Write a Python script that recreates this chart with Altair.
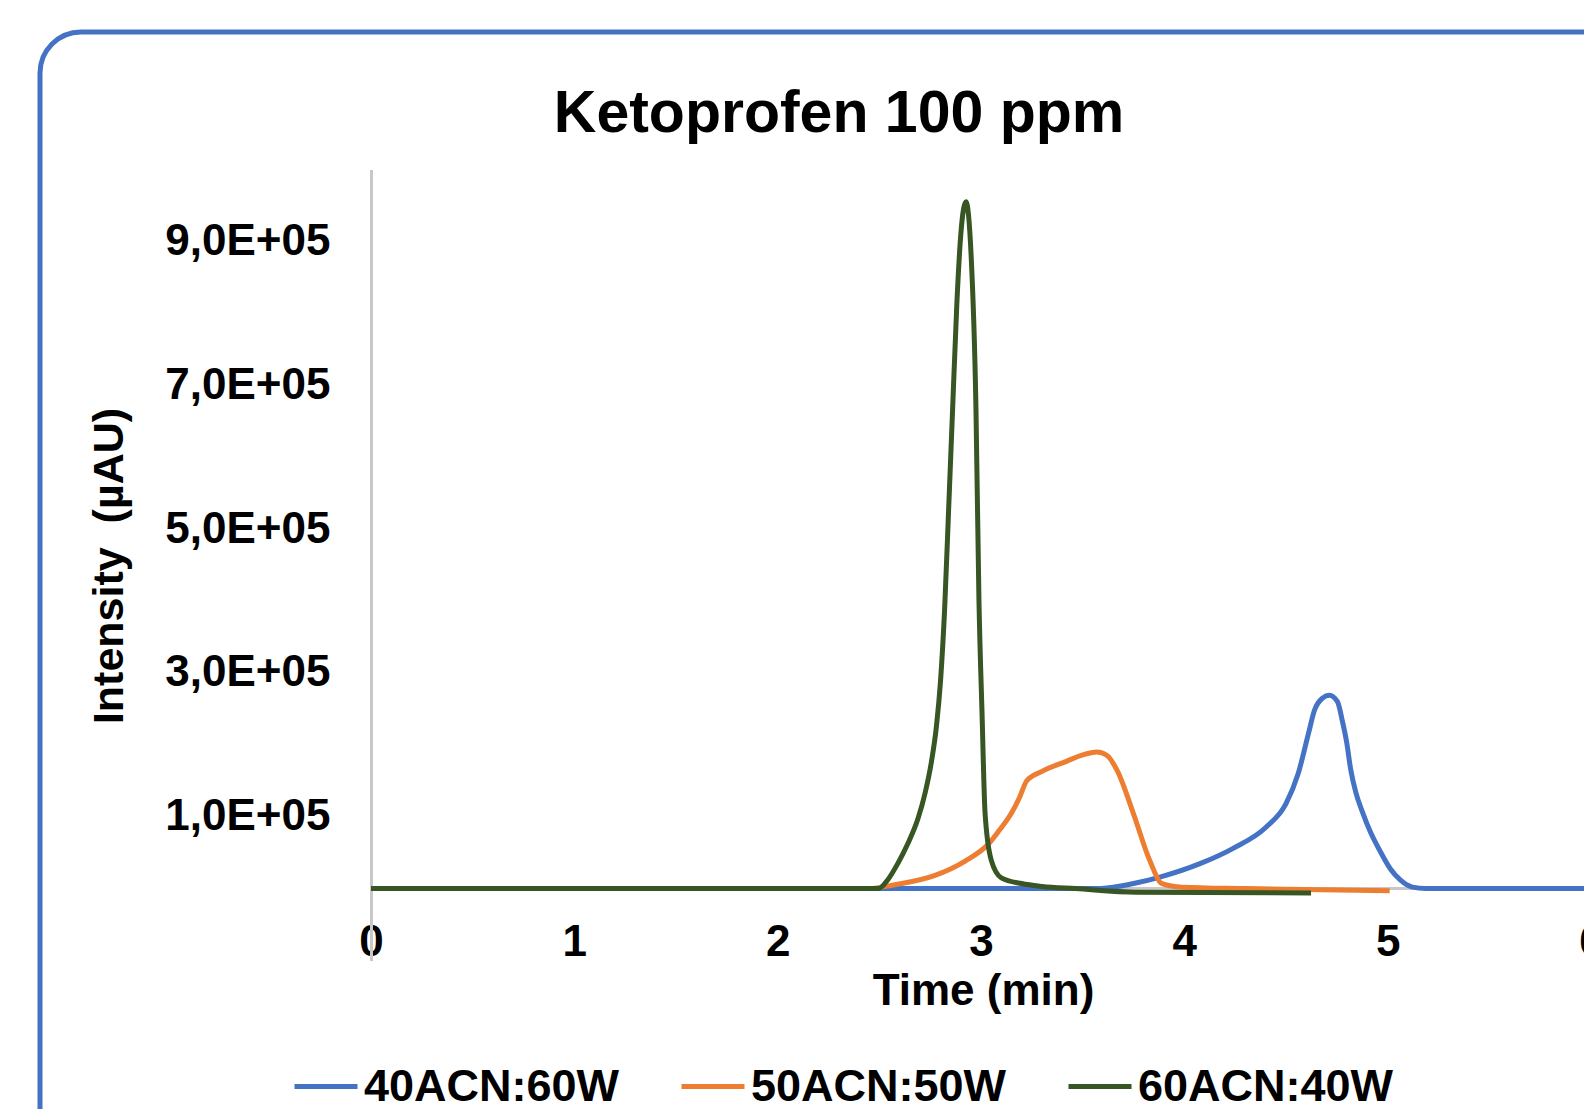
import altair as alt
import pandas as pd

SERIES = ["40ACN:60W", "50ACN:50W", "60ACN:40W"]
COLORS = ["#4472C4", "#ED7D31", "#375623"]

# 40ACN:60W (blue)
t_40 = [0.0, 3.58, 3.65, 3.75, 3.88, 4.08, 4.24, 4.40, 4.50, 4.56, 4.61, 4.64, 4.68,
        4.713, 4.753, 4.778, 4.798, 4.818, 4.843, 4.878, 4.913, 4.963, 5.012, 5.062,
        5.122, 5.187, 6.0]
i_40 = [0, 0, 2000, 7000, 16000, 35000, 56000, 85000, 118000, 160000, 215000, 248000, 265000,
        269000, 260000, 232000, 204000, 166000, 134000, 105000, 80000, 52000, 28000, 12000,
        2000, 0, 0]

# 50ACN:50W (orange)
t_50 = [0.45, 2.45, 2.57, 2.77, 2.92, 3.04, 3.09, 3.15, 3.19, 3.225, 3.30, 3.42, 3.50,
        3.57, 3.62, 3.67, 3.75, 3.83, 3.89, 3.99, 4.30, 5.01]
i_50 = [0, 0, 5000, 18000, 38000, 63000, 81000, 105000, 127000, 150000, 163000, 177000, 186000,
        190000, 185000, 164000, 104000, 39000, 7000, 2000, 0, -3000]

# 60ACN:40W (green)
t_60 = [0.0, 2.496, 2.541, 2.591, 2.641, 2.691, 2.726, 2.756, 2.781, 2.801, 2.821, 2.841,
        2.861, 2.881, 2.901, 2.926, 2.951, 2.975, 2.990, 3.005, 3.020, 3.050, 3.100, 3.200,
        3.300, 3.465, 3.764, 4.623]
i_60 = [0, 0, 12000, 35000, 63000, 98000, 134000, 176000, 226000, 289000, 388000, 529000,
        671000, 812000, 911000, 955000, 883000, 671000, 400000, 245000, 105000, 40000, 15000, 7000,
        3000, 0, -5000, -6000]

X_TICKS = [0, 1, 2, 3, 4, 5, 6]
Y_TICKS = [100000, 300000, 500000, 700000, 900000]

TITLE = "Ketoprofen 100 ppm"
X_TITLE = "Time (min)"
Y_TITLE = "Intensity\u00a0\u00a0(µAU)"

rows = []
for name, ts, vs in zip(SERIES, [t_40, t_50, t_60], [i_40, i_50, i_60]):
    for t, v in zip(ts, vs):
        rows.append({"series": name, "time": t, "intensity": v})
df = pd.DataFrame(rows)

FONT = "Liberation Sans"
W, H = 1220, 791
one = pd.DataFrame({"k": [0]})

x_scale = alt.Scale(domain=[0, 6], nice=False)
y_scale = alt.Scale(domain=[-100000, 1000000], nice=False, zero=False)

frame = alt.Chart(one).mark_rect(
    fillOpacity=0, stroke="#4472C4", strokeWidth=5, cornerRadius=41, clip=False
).encode(
    x=alt.value(-331), x2=alt.value(1400), y=alt.value(-137.5), y2=alt.value(1200)
)

baseline = alt.Chart(one).mark_rule(color="#C8C8C8", strokeWidth=3).encode(
    y=alt.datum(0, scale=y_scale), x=alt.value(0), x2=alt.value(W)
)

lines = alt.Chart(df).mark_line(strokeWidth=5, interpolate="monotone", clip=True).encode(
    x=alt.X("time:Q", scale=x_scale,
            axis=alt.Axis(values=X_TICKS, format="d", title=X_TITLE, grid=False,
                          domain=False, ticks=False, tickSize=0, labelPadding=-40,
                          labelFont=FONT, labelFontSize=44, labelFontWeight="bold",
                          labelColor="#000000", titleFont=FONT, titleFontSize=44,
                          titleFontWeight="bold", titleColor="#000000",
                          titleX=612, titleY=44, titleBaseline="alphabetic",
                          titleAlign="center", labelFlush=False)),
    y=alt.Y("intensity:Q", scale=y_scale,
            axis=alt.Axis(values=Y_TICKS, title=Y_TITLE, grid=False, ticks=False,
                          domain=True, domainColor="#C8C8C8", domainWidth=3,
                          labelExpr="replace(format(datum.value/100000, '.1f'), '.', ',') + 'E+05'",
                          labelPadding=41, labelFont=FONT, labelFontSize=44,
                          labelFontWeight="bold", labelColor="#000000",
                          titleFont=FONT, titleFontSize=43, titleFontWeight="bold",
                          titleColor="#000000", titleAngle=270, titleX=-249, titleY=396,
                          titleBaseline="alphabetic", titleAlign="center")),
    color=alt.Color("series:N", scale=alt.Scale(domain=SERIES, range=COLORS),
                    legend=alt.Legend(orient="none", legendX=-79, legendY=883,
                                      direction="horizontal", title=None,
                                      symbolType="stroke", symbolSize=3969,
                                      symbolStrokeWidth=5, labelFont=FONT,
                                      labelFontSize=45, labelFontWeight="bold",
                                      labelColor="#000000", labelOffset=4,
                                      columnPadding=51, padding=0, labelLimit=500)),
    order=alt.Order("time:Q"),
)

title = alt.Chart(one).mark_text(
    text=TITLE, font=FONT, fontSize=59, fontWeight="bold", color="#000000",
    align="center", baseline="alphabetic"
).encode(x=alt.value(468), y=alt.value(-37.5))

chart = alt.layer(frame, baseline, lines, title).properties(
    width=W, height=H,
    autosize=alt.AutoSizeParams(type="none"),
    padding={"left": 363, "top": 161.5, "right": -7, "bottom": 148.5},
    background="#FFFFFF",
).configure_view(stroke=None)

chart.save("out.html", embed_options={"renderer": "svg", "actions": False})
